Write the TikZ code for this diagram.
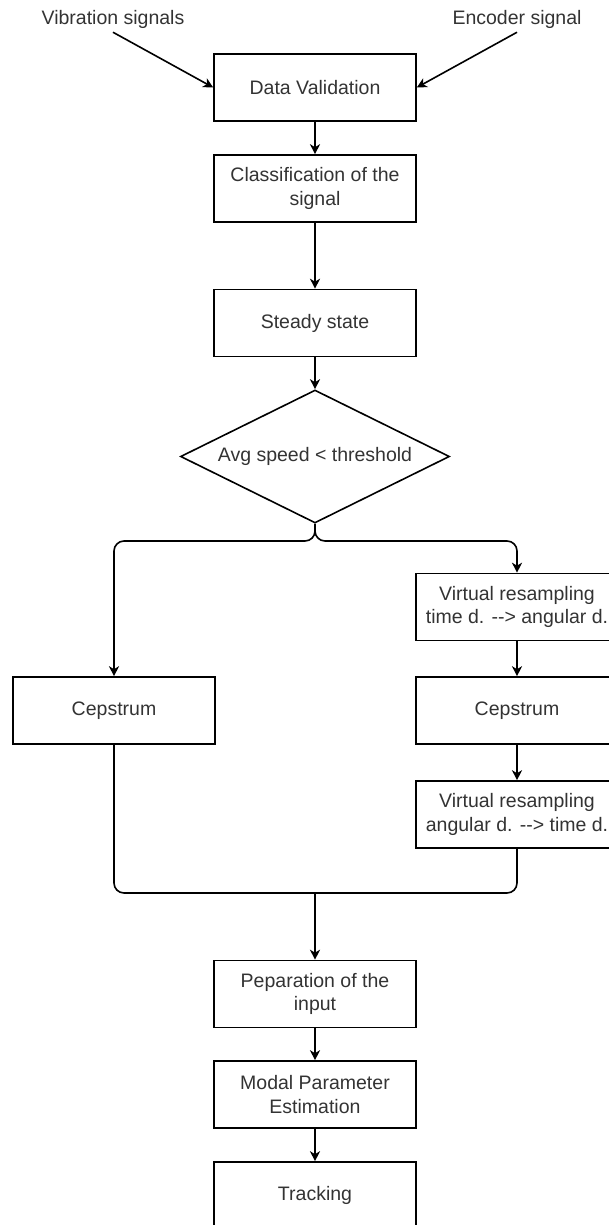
\documentclass[tikz,border=0pt]{standalone}
\usepackage{fontspec}
\setmainfont{Liberation Sans}
\usetikzlibrary{shapes.geometric,arrows.meta}
\begin{document}
\begin{tikzpicture}[x=1pt,y=-1pt,
  txt/.style={font=\fontsize{19.5}{23.5}\selectfont, text=black!80},
  box/.style={txt, draw, line width=1.6pt, minimum width=202pt, minimum height=67pt, inner sep=0pt, align=center},
  dia/.style={txt, draw, line width=1.6pt, shape=diamond, aspect=2, minimum width=269pt, minimum height=133pt, inner sep=0pt},
  lbl/.style={txt, inner sep=3pt},
  ln/.style={line width=1.6pt},
  arr/.style={ln, -{Stealth[length=10pt,width=10pt,inset=3pt]}}]
\useasboundingbox (0,0) rectangle (609,1225);

\node[lbl, anchor=base] (vib) at (113,25) {Vibration signals};
\node[lbl, anchor=base] (enc) at (517,25) {Encoder signal};

\node[box] (dv)   at (315,87.5)  {Data Validation};
\node[box] (cls)  at (315,188.5) {Classification of the\\signal};
\node[box] (ss)   at (315,323)   {Steady state};
\node[dia] (dec)  at (315,456.5) {Avg speed < threshold};
\node[box] (vr1)  at (517,607)   {Virtual resampling\\time d. -{}-{}> angular d.};
\node[box] (cepR) at (517,710.5) {Cepstrum};
\node[box] (vr2)  at (517,814.5) {Virtual resampling\\angular d. -{}-{}> time d.};
\node[box] (cepL) at (114,710.5) {Cepstrum};
\node[box] (pep)  at (315,994)   {Peparation of the\\input};
\node[box] (mod)  at (315,1094.5){Modal Parameter\\Estimation};
\node[box] (trk)  at (315,1195.5){Tracking};

\coordinate (sp) at (315,541);
\coordinate (mg) at (315,893);

\draw[arr] (vib.south) -- (dv.west);
\draw[arr] (enc.south) -- (dv.east);
\draw[arr] (dv.south) -- (cls.north);
\draw[arr] (cls.south) -- (ss.north);
\draw[arr] (ss.south) -- (dec.north);
\draw[arr, rounded corners=10pt] (dec.south) -- (sp) -| (cepL.north);
\draw[arr, rounded corners=10pt] (dec.south) -- (sp) -| (vr1.north);
\draw[arr] (vr1.south) -- (cepR.north);
\draw[arr] (cepR.south) -- (vr2.north);
\draw[ln, rounded corners=10pt] (cepL.south) |- (mg);
\draw[ln, rounded corners=10pt] (vr2.south) |- (mg);
\draw[arr] (mg) -- (pep.north);
\draw[arr] (pep.south) -- (mod.north);
\draw[arr] (mod.south) -- (trk.north);
\end{tikzpicture}
\end{document}
